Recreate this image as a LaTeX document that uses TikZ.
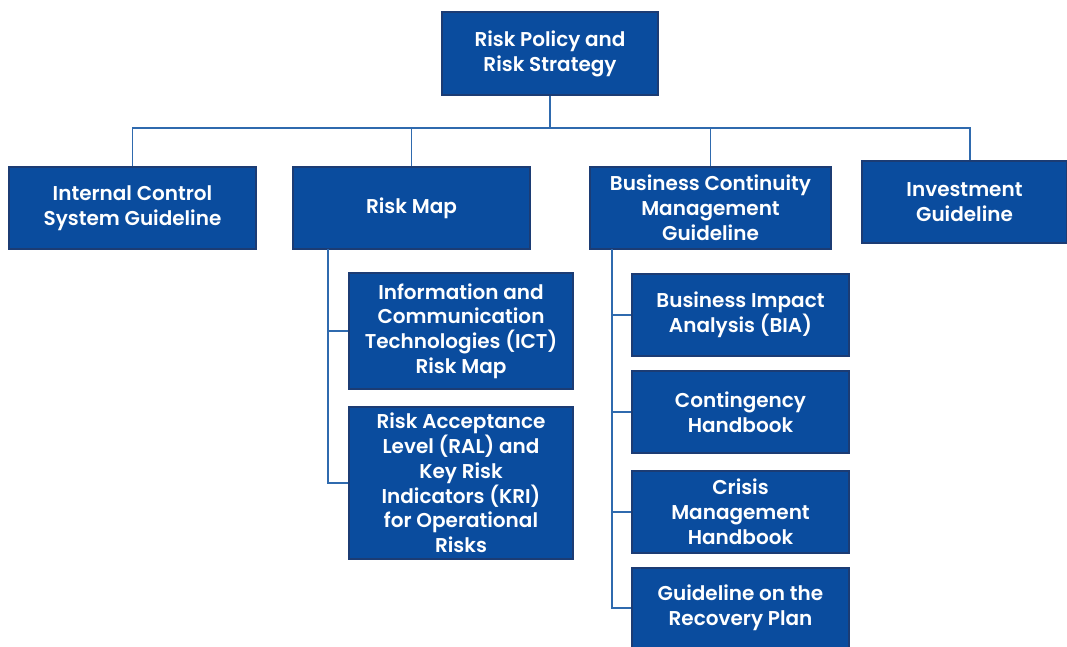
\documentclass[tikz,border=0pt]{standalone}
\usepackage{fontspec}
\setmainfont{Poppins}[BoldFont={Poppins SemiBold}]
\definecolor{boxfill}{HTML}{0A4C9E}
\definecolor{boxline}{HTML}{1C3C74}
\definecolor{wire}{HTML}{2F6AAE}
\begin{document}
\begin{tikzpicture}[x=0.75pt,y=-0.75pt,
  label text/.style={text=white,align=center,font=\bfseries\fontsize{15}{18.6}\selectfont,inner sep=2pt},
  box/.style={draw=boxline,line width=1.2pt,fill=boxfill,label text},
  wire/.style={draw=wire,line width=1pt}]
\useasboundingbox (0,0) rectangle (1067,646);
\clip (0,0) rectangle (1067,646);
% top level
\node[box,minimum width=162pt,minimum height=62.25pt] (top) at (550,53.5) {Risk Policy and\\Risk Strategy};
% second level
\node[box,minimum width=185.25pt,minimum height=61.5pt] (ics) at (132.5,208) {Internal Control\\System Guideline};
\node[box,minimum width=177.75pt,minimum height=61.5pt] (rmap) at (411.5,208) {Risk Map};
\node[box,minimum width=180.75pt,minimum height=61.5pt] (bcm) at (710.5,208) {Business Continuity\\Management\\Guideline};
\node[box,minimum width=153.75pt,minimum height=61.5pt] (inv) at (964.5,202) {Investment\\Guideline};
% under Risk Map
\node[box,minimum width=168pt,minimum height=87pt] (ict) at (461,331) {Information and\\Communication\\Technologies (ICT)\\Risk Map};
\node[box,minimum width=168pt,minimum height=114pt] (ral) at (461,483) {Risk Acceptance\\Level (RAL) and\\Key Risk\\Indicators (KRI)\\for Operational\\Risks};
% under Business Continuity Management
\node[box,minimum width=162.75pt,minimum height=61.5pt] (bia) at (740.5,315) {Business Impact\\Analysis (BIA)};
\node[box,minimum width=162.75pt,minimum height=61.5pt] (cont) at (740.5,412) {Contingency\\Handbook};
\node[box,minimum width=162.75pt,minimum height=61.5pt] (cri) at (740.5,512) {Crisis\\Management\\Handbook};
% last box runs past the lower edge of the page
\node[box,minimum width=162.75pt,minimum height=69pt] (rec) at (740.5,614) {};
\node[label text] (rectext) at (740.5,608) {Guideline on the\\Recovery Plan};
% connectors from the top box
\coordinate (bus) at (550,128);
\coordinate (invdrop) at (970,128);
\draw[wire] (top.south) -- (bus);
\draw[wire] (ics.north) |- (invdrop) -- (invdrop |- inv.north);
\draw[wire] (rmap.north) -- (rmap.north |- bus);
\draw[wire] (bcm.north) -- (bcm.north |- bus);
% Risk Map spine
\coordinate (rs) at (328,249);
\draw[wire] (rs) |- (ral.west);
\draw[wire] (rs |- ict.west) -- (ict.west);
% BCM spine
\coordinate (bs) at (612,249);
\draw[wire] (bs) |- (rec.west |- rectext.west);
\draw[wire] (bs |- bia.west) -- (bia.west);
\draw[wire] (bs |- cont.west) -- (cont.west);
\draw[wire] (bs |- cri.west) -- (cri.west);
\end{tikzpicture}
\end{document}
